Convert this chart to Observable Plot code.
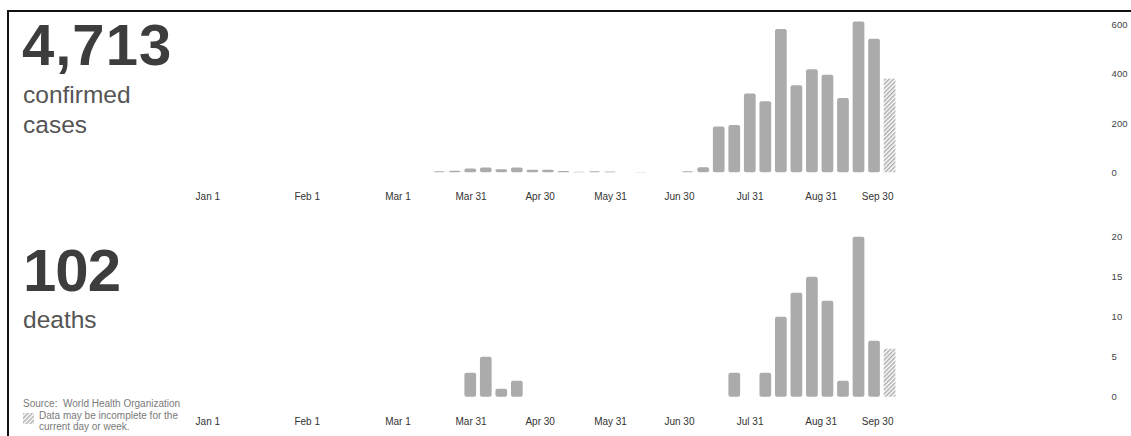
<!DOCTYPE html>
<html>
<head>
<meta charset="utf-8">
<script src="https://cdn.jsdelivr.net/npm/d3@7"></script>
<script src="https://cdn.jsdelivr.net/npm/@observablehq/plot@0.6"></script>
<style>
  html, body { margin: 0; padding: 0; background: #fff; }
  body { width: 1131px; height: 436px; position: relative; overflow: hidden; font-family: "Liberation Sans", Arial, Helvetica, sans-serif; }
  .abs { position: absolute; white-space: nowrap; }
  .big { font-weight: bold; color: #3d3d3d; line-height: 1; }
  .sub { font-size: 24.5px; line-height: 30px; color: #555; }
  .note { font-size: 10px; color: #7a7a7a; }
  #frame { position: absolute; left: 7px; top: 10px; width: 1130px; height: 440px; border-top: 2px solid #111; border-left: 2px solid #111; pointer-events: none; z-index: 10; }
  svg.plotsvg { position: absolute; left: 0; }
</style>
</head>
<body>
<div id="top-plot"></div>
<div id="bottom-plot"></div>

<div class="abs big" style="left:22px; top:16px; font-size:58px; letter-spacing:1px;">4,713</div>
<div class="abs sub" style="left:23px; top:79.5px;">confirmed<br>cases</div>
<div class="abs big" style="left:23px; top:241px; font-size:60px; letter-spacing:-1px;">102</div>
<div class="abs sub" style="left:23px; top:304.8px;">deaths</div>

<div class="abs note" style="left:23px; top:398.5px; line-height:10px;">Source:&nbsp; World Health Organization</div>
<svg class="abs" style="left:23px; top:412.5px;" width="11" height="11">
  <defs>
    <pattern id="hatch-legend" patternUnits="userSpaceOnUse" width="3" height="3" patternTransform="rotate(45)">
      <rect width="3" height="3" fill="#fff"></rect>
      <line x1="0.75" y1="0" x2="0.75" y2="3" stroke="#b0b0b0" stroke-width="1.5"></line>
    </pattern>
  </defs>
  <rect width="11" height="11" fill="url(#hatch-legend)"></rect>
</svg>
<div class="abs note" style="left:39px; top:410px; line-height:11px;">Data may be incomplete for the<br>current day or week.</div>

<div id="frame"></div>

<script>
// ---- data (weekly counts, index 0 = first week shown) ----
const cases  = [4, 6, 15, 19, 12, 19, 10, 10, 5, 2, 4, 3, 0, 1, 0, 0, 4, 21, 186, 192, 320, 288, 582, 353, 418, 396, 302, 612, 542, 380];
const deaths = [0, 0, 3, 5, 1, 2, 0, 0, 0, 0, 0, 0, 0, 0, 0, 0, 0, 0, 0, 3, 0, 3, 10, 13, 15, 12, 2, 20, 7, 6];
const partialWeek = 29; // last week: data may be incomplete
const tickLabels = ["Jan 1", "Feb 1", "Mar 1", "Mar 31", "Apr 30", "May 31", "Jun 30", "Jul 31", "Aug 31", "Sep 30"];
const tickWeeks  = [-14.93, -8.53, -2.69, 2.02, 6.47, 11.0, 15.44, 19.99, 24.56, 28.2];
const caseTicks  = [0, 200, 400, 600];
const deathTicks = [0, 5, 10, 15, 20];

const labelByWeek = new Map(tickWeeks.map((w, i) => [w, tickLabels[i]]));
const half = 0.377;

function addHatch(svg, id) {
  const ns = "http://www.w3.org/2000/svg";
  const defs = document.createElementNS(ns, "defs");
  const pat = document.createElementNS(ns, "pattern");
  pat.setAttribute("id", id);
  pat.setAttribute("patternUnits", "userSpaceOnUse");
  pat.setAttribute("width", "3");
  pat.setAttribute("height", "3");
  pat.setAttribute("patternTransform", "rotate(45)");
  const bg = document.createElementNS(ns, "rect");
  bg.setAttribute("width", "3"); bg.setAttribute("height", "3"); bg.setAttribute("fill", "#fff");
  const ln = document.createElementNS(ns, "line");
  ln.setAttribute("x1", "0.75"); ln.setAttribute("x2", "0.75");
  ln.setAttribute("y1", "0"); ln.setAttribute("y2", "3");
  ln.setAttribute("stroke", "#ababab"); ln.setAttribute("stroke-width", "1.5");
  pat.appendChild(bg); pat.appendChild(ln); defs.appendChild(pat);
  svg.insertBefore(defs, svg.firstChild);
}

function makeChart(values, yTicks, yMax, hatchId, top, height, marginTop, marginBottom) {
  const rows = values.map((v, i) => ({week: i, value: v}));
  const full = rows.filter(d => d.week !== partialWeek && d.value > 0);
  const part = rows.filter(d => d.week === partialWeek && d.value > 0);
  const svg = Plot.plot({
    width: 1131,
    height,
    marginLeft: 190.7,
    marginRight: 225.9,
    marginTop,
    marginBottom,
    x: {type: "linear", domain: [-16, 30]},
    y: {domain: [0, yMax]},
    style: {background: "transparent", fontFamily: "'Liberation Sans', Arial, Helvetica, sans-serif", overflow: "visible"},
    marks: [
      Plot.rect(full, {x1: d => d.week - half, x2: d => d.week + half, y1: 0, y2: "value", fill: "#ababab", rx: 2}),
      Plot.rect(part, {x1: d => d.week - half, x2: d => d.week + half, y1: 0, y2: "value", fill: `url(#${hatchId})`}),
      Plot.axisX({ticks: tickWeeks, tickFormat: d => labelByWeek.get(d), tickSize: 0, tickPadding: 20.5, fontSize: 10, color: "#333", label: null}),
      Plot.axisY({anchor: "right", ticks: yTicks, tickFormat: d => String(d), tickSize: 0, tickPadding: 206, fontSize: 9.5, color: "#444", label: null})
    ]
  });
  addHatch(svg, hatchId);
  svg.classList.add("plotsvg");
  svg.style.top = top + "px";
  return svg;
}

document.getElementById("top-plot").appendChild(makeChart(cases, caseTicks, 600, "hatch-cases", 0, 212, 24.5, 39.7));
document.getElementById("bottom-plot").appendChild(makeChart(deaths, deathTicks, 20, "hatch-deaths", 212, 224, 24.7, 39.3));
</script>
</body>
</html>
